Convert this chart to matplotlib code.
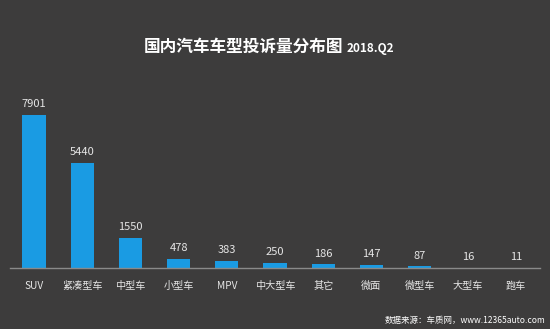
"""Domestic car complaint distribution by body type, 2018 Q2."""

import matplotlib
matplotlib.use("Agg")
import matplotlib.pyplot as plt

plt.rcParams["font.family"] = ["Noto Sans CJK SC", "DejaVu Sans"]

categories = ["SUV", "紧凑型车", "中型车", "小型车", "MPV", "中大型车",
              "其它", "微面", "微型车", "大型车", "跑车"]
complaints = [7901, 5440, 1550, 478, 383, 250, 186, 147, 87, 16, 11]

BG = "#3d3c3c"
BAR = "#1a9be3"
TXT = "#e6e6e6"


def main():
    fig = plt.figure(figsize=(5.5, 3.29), dpi=100, facecolor=BG)
    ax = fig.add_axes([0.018, 0.1854, 0.964, 0.571], facecolor=BG)

    x = range(len(categories))
    bars = ax.bar(x, complaints, width=0.48, color=BAR)
    for b, v in zip(bars, complaints):
        ax.text(b.get_x() + b.get_width() / 2, v + 300, str(v),
                ha="center", va="bottom", color=TXT, fontsize=8)

    ax.set_xlim(-0.5, len(categories) - 0.5)
    ax.set_ylim(0, 9708)
    ax.set_xticks(list(x))
    ax.set_xticklabels(categories, color=TXT, fontsize=7.3)
    ax.tick_params(axis="x", length=0, pad=9)
    ax.set_yticks([])
    for s in ("top", "right", "left"):
        ax.spines[s].set_visible(False)
    ax.spines["bottom"].set_color("#8a8a8a")
    ax.spines["bottom"].set_linewidth(1.0)

    fig.text(0.624, 0.857, "国内汽车车型投诉量分布图", ha="right", va="center",
             color="white", fontsize=12, fontweight="bold")
    fig.text(0.631, 0.853, "2018.Q2", ha="left", va="center",
             color="white", fontsize=8.5, fontweight="bold")
    fig.text(0.991, 0.027, "数据来源：车质网，www.12365auto.com", ha="right",
             va="center", color="white", fontsize=6.1)

    fig.savefig("out.png", dpi=100, facecolor=BG)
    plt.close(fig)


if __name__ == "__main__":
    main()
